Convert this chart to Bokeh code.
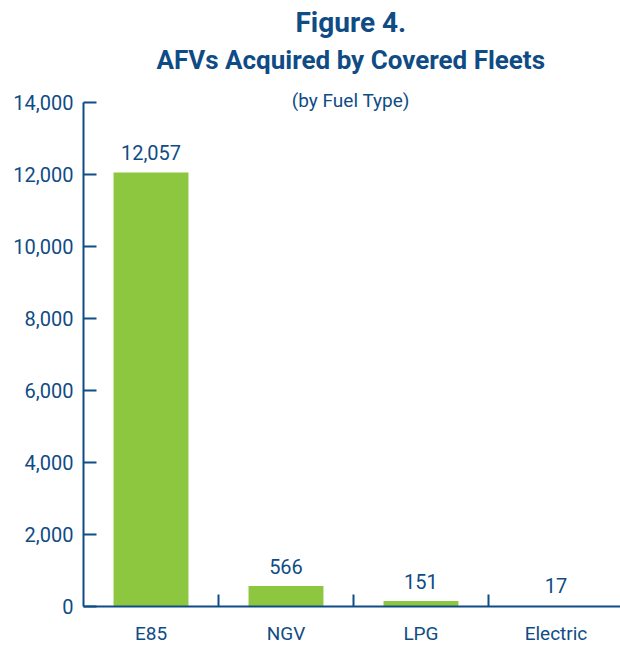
from bokeh.plotting import figure
from bokeh.models import ColumnDataSource, FixedTicker, LabelSet, Label, Range1d
from bokeh.core.properties import value
from bokeh.embed import file_html
from bokeh.resources import INLINE

categories = ["E85", "NGV", "LPG", "Electric"]
values = [12057, 566, 151, 17]
y_ticks = [0, 2000, 4000, 6000, 8000, 10000, 12000, 14000]

BLUE = "#0f4c85"
GREEN = "#8dc63f"
FONT = "Roboto"

xs = [i + 0.5 for i in range(len(categories))]
src = ColumnDataSource(dict(x=xs, top=values, lab=[f"{v:,}" for v in values]))

p = figure(width=620, height=645, output_backend="svg", toolbar_location=None,
           frame_width=537, frame_height=606,
           x_range=Range1d(0, 3.978), y_range=Range1d(0, 16833),
           min_border_left=83, min_border_right=0, min_border_top=0, min_border_bottom=39)
p.outline_line_color = None
p.grid.visible = False
p.background_fill_color = "white"

p.vbar(x="x", top="top", width=0.555, source=src, fill_color=GREEN, line_color=None)

p.add_layout(LabelSet(x="x", y="top", text="lab", source=src, text_align="center",
                      text_baseline="middle", y_offset=20, text_font=value(FONT),
                      text_font_size=value("20px"), text_color=BLUE))

# y axis
ya = p.yaxis[0]
ya.bounds = (0, 14000)
ya.ticker = FixedTicker(ticks=y_ticks)
ya.major_label_overrides = {t: f"{t:,}" for t in y_ticks}
ya.axis_line_color = BLUE
ya.axis_line_width = 2
ya.major_tick_line_color = BLUE
ya.major_tick_line_width = 2
ya.major_tick_in = 13
ya.major_tick_out = 0
ya.minor_tick_line_color = None
ya.major_label_standoff = 10
ya.major_label_text_font = FONT
ya.major_label_text_font_size = "20px"
ya.major_label_text_color = BLUE

# x axis
xa = p.xaxis[0]
xa.ticker = FixedTicker(ticks=xs, minor_ticks=[1, 2, 3])
xa.major_label_overrides = {x: c for x, c in zip(xs, categories)}
xa.axis_line_color = BLUE
xa.axis_line_width = 2
xa.major_tick_line_color = None
xa.minor_tick_line_color = BLUE
xa.minor_tick_line_width = 2
xa.minor_tick_in = 12
xa.minor_tick_out = 0
xa.major_label_standoff = 9
xa.major_label_text_font = FONT
xa.major_label_text_font_size = "19px"
xa.major_label_text_color = BLUE

# titles
p.add_layout(Label(x=1.98, y=16222, text="Figure 4.", text_align="center", text_baseline="middle",
                   text_font=FONT, text_font_style="bold", text_font_size="28px", text_color=BLUE))
p.add_layout(Label(x=1.98, y=15167, text="AFVs Acquired by Covered Fleets", text_align="center",
                   text_baseline="middle", text_font=FONT, text_font_style="bold",
                   text_font_size="26px", text_color=BLUE))
p.add_layout(Label(x=1.98, y=14056, text="(by Fuel Type)", text_align="center", text_baseline="middle",
                   text_font=FONT, text_font_size="19px", text_color=BLUE))

open("out.html", "w").write(file_html(p, INLINE))
